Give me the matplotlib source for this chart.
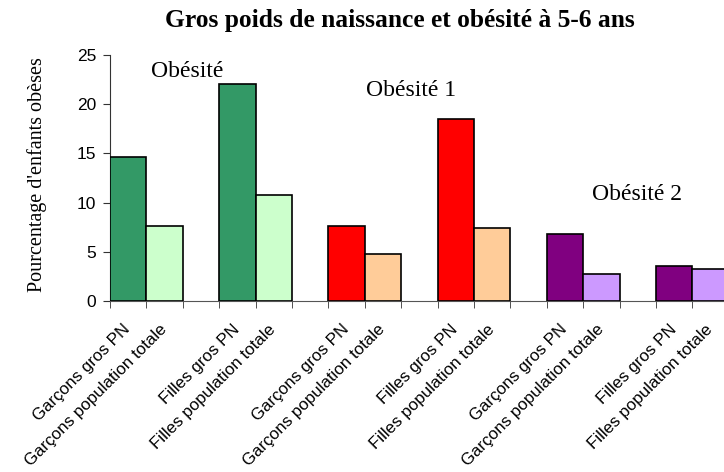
import matplotlib
matplotlib.use("Agg")
import matplotlib.pyplot as plt
import matplotlib.transforms as mtransforms
import numpy as np

labels = ["Garçons gros PN", "Garçons population totale",
          "Filles gros PN", "Filles population totale",
          "Garçons gros PN", "Garçons population totale",
          "Filles gros PN", "Filles population totale",
          "Garçons gros PN", "Garçons population totale",
          "Filles gros PN", "Filles population totale"]
values = [14.6, 7.6, 22.1, 10.8, 7.6, 4.8, 18.5, 7.4, 6.8, 2.7, 3.6, 3.3]
colors = ["#339966", "#CCFFCC", "#339966", "#CCFFCC",
          "#FF0000", "#FFCC99", "#FF0000", "#FFCC99",
          "#800080", "#CC99FF", "#800080", "#CC99FF"]
group_names = ["Obésité", "Obésité 1", "Obésité 2"]
yticks = [0, 5, 10, 15, 20, 25]

W, H = 724, 472
fig = plt.figure(figsize=(W/100, H/100), dpi=100)
slot = 36.4
ax = fig.add_axes([110/W, (H-301)/H, 18*slot/W, (301-55)/H])

# positions: pairs of bars, with one empty slot after each pair
pos = []
for i in range(len(values)):
    pair = i // 2
    pos.append(pair*3 + (i % 2) + 0.5)
pos = np.array(pos)

ax.bar(pos, values, width=1.0, color=colors, edgecolor="black", linewidth=1.2, zorder=3)
ax.set_xlim(0, 18)
ax.set_ylim(0, 25)
ax.set_yticks(yticks)
ax.set_yticklabels([str(v) for v in yticks], family="Liberation Sans", fontsize=12.5)
ax.set_xticks(np.arange(0, 19), minor=True)
ax.set_xticks(pos)
ax.set_xticklabels(labels, rotation=45, ha="right", rotation_mode="anchor",
                   family="Liberation Sans", fontsize=12.2)
ax.tick_params(axis="x", which="major", length=0, pad=15)
ax.tick_params(axis="x", which="minor", length=5, direction="out", color="#333333")
ax.tick_params(axis="y", length=5, direction="out", color="#333333", pad=5)
offset = mtransforms.ScaledTranslation(-5.5/100, 0, fig.dpi_scale_trans)
for lab in ax.get_xticklabels():
    lab.set_transform(lab.get_transform() + offset)
for s in ["top", "right"]:
    ax.spines[s].set_visible(False)
ax.spines["left"].set_color("#333333")
ax.spines["bottom"].set_color("#555555")

fig.text(37/W, 1 - 175/H, "Pourcentage d'enfants obèses", family="Liberation Serif",
         fontsize=14.5, rotation=90, ha="center", va="center")

# group annotations placed in data coordinates
ax.text(2.12, 23.3, group_names[0], family="Liberation Serif", fontsize=17, ha="center", va="center")
ax.text(8.27, 21.4, group_names[1], family="Liberation Serif", fontsize=17, ha="center", va="center")
ax.text(14.48, 10.87, group_names[2], family="Liberation Serif", fontsize=17, ha="center", va="center")

fig.text(400/W, 1 - 21/H, "Gros poids de naissance et obésité à 5-6 ans",
         family="Liberation Serif", fontweight="bold", fontsize=18.4, ha="center", va="center")

fig.savefig("out.png", dpi=100)
